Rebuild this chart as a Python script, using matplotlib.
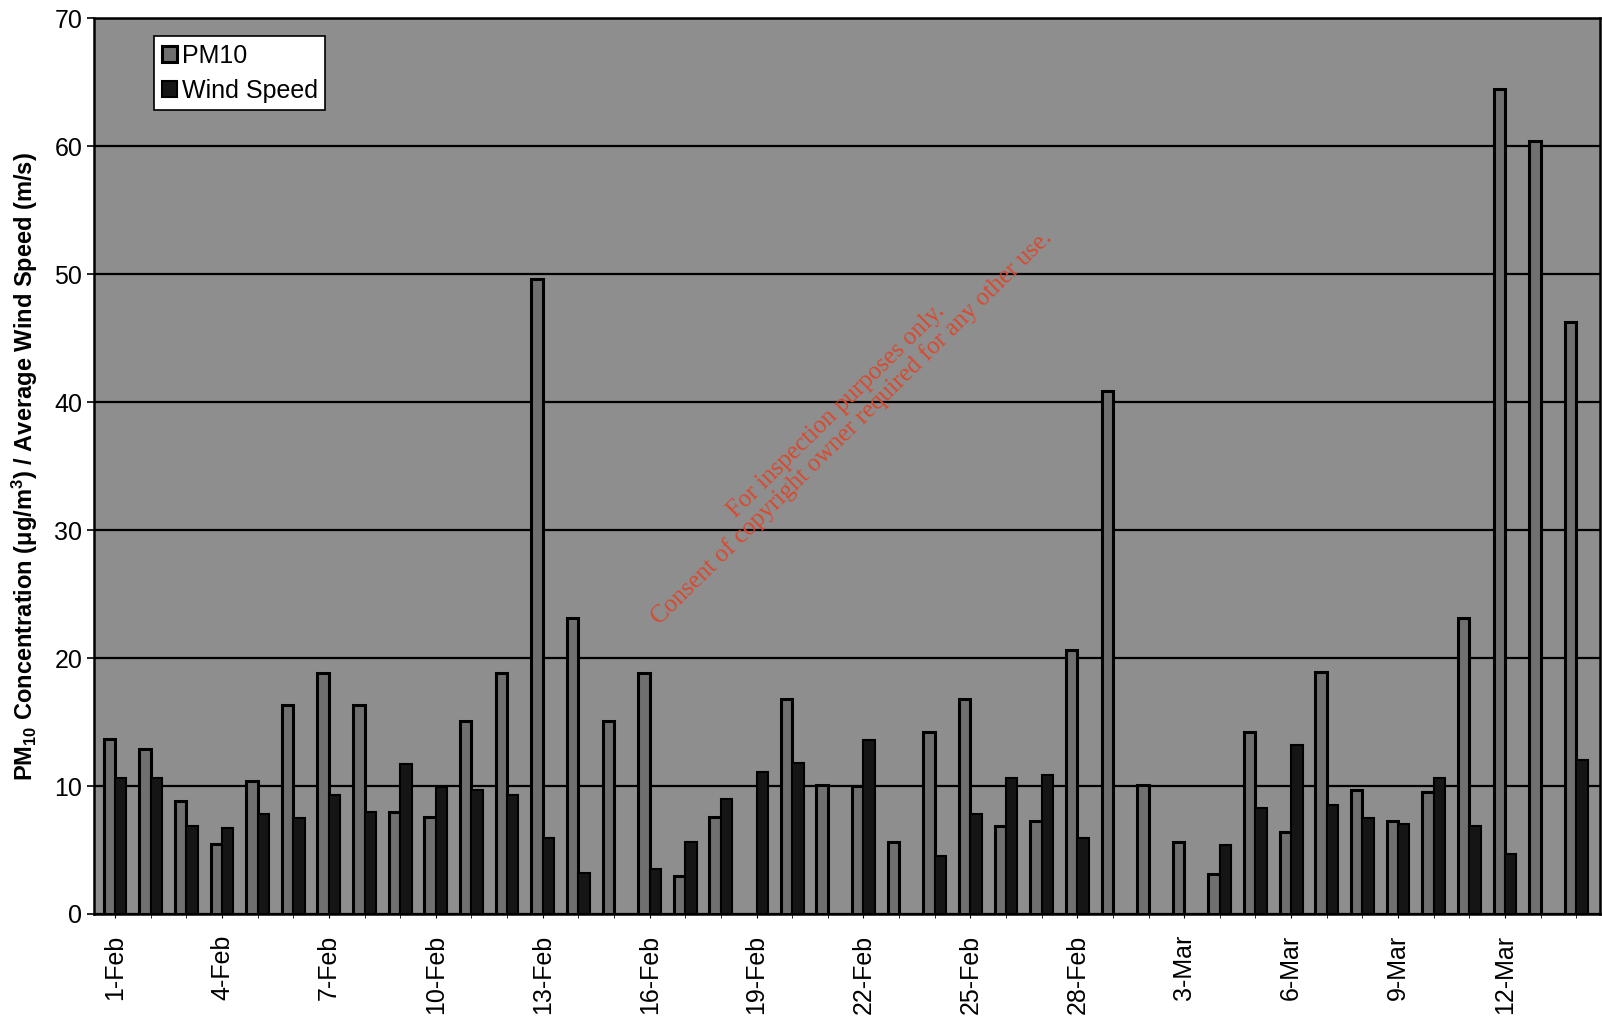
import numpy as np
import pandas as pd
from matplotlib import pyplot as plt

plt.rcParams['font.family'] = ['Liberation Sans', 'DejaVu Sans']
plt.rcParams['mathtext.fontset'] = 'custom'
plt.rcParams['mathtext.rm'] = 'Liberation Sans'
plt.rcParams['mathtext.it'] = 'Liberation Sans:italic'
plt.rcParams['mathtext.bf'] = 'Liberation Sans:bold'

nan = np.nan

# one entry per day, 1-Feb .. 14-Mar
dates = pd.date_range('2003-02-01', '2003-03-14')
date_labels = [f"{d.day}-{d:%b}" for d in dates]

pm10 = [13.7, 12.9, 8.8, 5.5, 10.4, 16.3, 18.8, 16.3, 8.0, 7.6,
        15.1, 18.8, 49.6, 23.1, 15.1, 18.8, 3.0, 7.6, nan, 16.8,
        10.1, 10.0, 5.6, 14.2, 16.8, 6.9, 7.3, 20.6, 40.9, 10.1,
        5.6, 3.1, 14.2, 6.4, 18.9, 9.7, 7.3, 9.5, 23.1, 64.5, 60.4, 46.3]
wind_speed = [10.6, 10.6, 6.9, 6.7, 7.8, 7.5, 9.3, 8.0, 11.7, 9.9,
              9.7, 9.3, 5.9, 3.2, nan, 3.5, 5.6, 9.0, 11.1, 11.8,
              nan, 13.6, nan, 4.5, 7.8, 10.6, 10.9, 5.9, nan, nan,
              nan, 5.4, 8.3, 13.2, 8.5, 7.5, 7.0, 10.6, 6.9, 4.7, nan, 12.0]
y_ticks = [0, 10, 20, 30, 40, 50, 60, 70]

fig = plt.figure(figsize=(16.02, 10.16), dpi=100)
ax = fig.add_axes([0.0587, 0.1004, 0.9401, 0.8816])
ax.set_facecolor('#8e8e8e')

x = np.arange(len(dates))
w = 0.32
ax.bar(x - w / 2, pm10, width=w, color='#707070', edgecolor='black', linewidth=2.2,
       label='PM10', zorder=3)
ax.bar(x + w / 2, wind_speed, width=w, color='#151515', edgecolor='black', linewidth=1.5,
       label='Wind Speed', zorder=3)

ax.set_xlim(-0.59, 41.67)
ax.set_ylim(0, 70)
ax.set_yticks(y_ticks)
ax.yaxis.grid(True, color='black', linewidth=1.6, zorder=1)
ax.set_axisbelow(True)
ax.tick_params(axis='y', labelsize=18, length=5, width=1.2)

ax.set_xticks(x[::3])
ax.set_xticklabels(date_labels[::3], rotation=90, fontsize=18)
ax.set_xticks(x, minor=True)
ax.tick_params(axis='x', which='both', length=3, pad=12)

for s in ['left', 'bottom', 'top', 'right']:
    ax.spines[s].set_linewidth(1.8)

ax.set_ylabel(r'PM$_{\mathbf{10}}$ Concentration ($\mathbf{\mu}$g/m$^{\mathbf{3}}$) / Average Wind Speed (m/s)',
              fontsize=17, fontweight='bold', labelpad=10)

leg = ax.legend(loc='upper left', bbox_to_anchor=(0.040, 0.980), fontsize=18,
                frameon=True, fancybox=False, edgecolor='black', framealpha=1,
                handlelength=0.6, handleheight=0.6, handletextpad=0.2,
                borderpad=0.3, labelspacing=0.45, borderaxespad=0)
leg.get_frame().set_linewidth(1.2)

ax.text(0.498, 0.552,
        'For inspection purposes only.\nConsent of copyright owner required for any other use.',
        transform=ax.transAxes, rotation=44.5, ha='center', va='center',
        fontsize=18, family='Liberation Serif', color='#d84a30', zorder=5,
        linespacing=1.0)

fig.savefig('out.png', dpi=100)
